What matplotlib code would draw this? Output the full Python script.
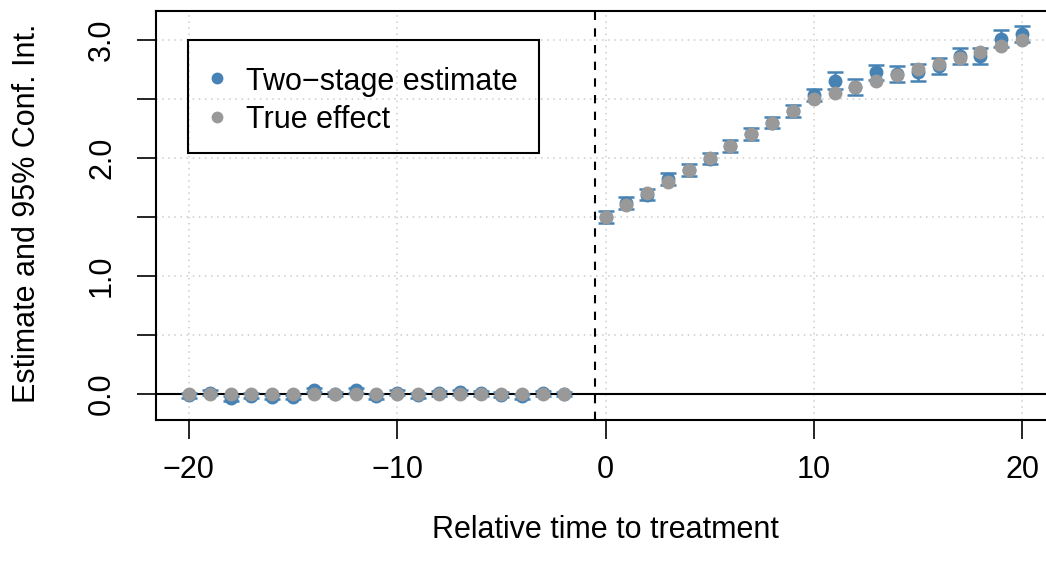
import matplotlib
matplotlib.use("Agg")
import matplotlib.pyplot as plt
from matplotlib.patches import Rectangle
from matplotlib.lines import Line2D

plt.rcParams['font.family'] = ['Liberation Sans', 'DejaVu Sans']

# ---- data ----
rel_time = [-20, -19, -18, -17, -16, -15, -14, -13, -12, -11, -10, -9, -8, -7, -6, -5, -4, -3, -2,
            0, 1, 2, 3, 4, 5, 6, 7, 8, 9, 10, 11, 12, 13, 14, 15, 16, 17, 18, 19, 20]
estimate = [-0.01, 0.01, -0.035, -0.015, -0.025, -0.025, 0.035, 0.0, 0.03, -0.02,
            0.01, -0.01, 0.005, 0.015, 0.005, -0.005, -0.02, 0.005, 0.0,
            1.50, 1.62, 1.69, 1.82, 1.90, 1.995, 2.10, 2.20, 2.30, 2.40, 2.53,
            2.655, 2.60, 2.725, 2.71, 2.725, 2.78, 2.865, 2.865, 3.01, 3.05]
ci_half = [0.02] * 19 + [0.05, 0.05, 0.05, 0.05, 0.05, 0.05, 0.05, 0.05, 0.05, 0.05, 0.05,
                         0.07, 0.07, 0.065, 0.07, 0.07, 0.07, 0.07, 0.07, 0.07, 0.07]
true_effect = [0.0] * 19 + [1.5, 1.6, 1.7, 1.8, 1.9, 2.0, 2.1, 2.2, 2.3, 2.4, 2.5,
                            2.55, 2.6, 2.65, 2.7, 2.75, 2.8, 2.85, 2.9, 2.95, 3.0]
series_names = ["Two\u2212stage estimate", "True effect"]
x_ticks = [-20, -10, 0, 10, 20]
x_ticklabels = ["\u221220", "\u221210", "0", "10", "20"]
y_ticks = [0.0, 0.5, 1.0, 1.5, 2.0, 2.5, 3.0]
y_ticklabels = ["0.0", "", "1.0", "", "2.0", "", "3.0"]

BLUE = "#4682B4"
GREY = "#999999"
FS = 22

W, H = 1046, 565
fig = plt.figure(figsize=(W / 100, H / 100), dpi=100)
left, right, top, bottom = 156, 1055, 11, 420
ax = fig.add_axes([left / W, 1 - bottom / H, (right - left) / W, (bottom - top) / H])
ax.set_xlim(-21.58, 21.58)
ax.set_ylim(-0.22, 3.245)

# grid
for xv in x_ticks:
    ax.axvline(xv, color="#cccccc", lw=1.1, ls=(0, (1, 3)), zorder=0)
for yv in y_ticks:
    ax.axhline(yv, color="#cccccc", lw=1.1, ls=(0, (1, 3)), zorder=0)

ax.axhline(0, color="black", lw=1.5, zorder=1)
ax.axvline(-0.5, color="black", lw=1.5, ls=(0, (4, 4)), zorder=1)

ax.errorbar(rel_time, estimate, yerr=ci_half, fmt="o", color=BLUE, ms=9,
            elinewidth=1.8, capsize=5.5, capthick=1.8, zorder=3)
ax.plot(rel_time, true_effect, "o", color=GREY, ms=9, zorder=4)

ax.set_xticks(x_ticks)
ax.set_xticklabels(x_ticklabels)
ax.set_yticks(y_ticks)
ax.set_yticklabels(y_ticklabels)
ax.tick_params(axis="both", direction="out", length=13.5, width=1.2, labelsize=FS)
ax.tick_params(axis="x", pad=12)
ax.tick_params(axis="y", pad=14.5)
for lab in ax.get_yticklabels():
    lab.set_rotation(90)
    lab.set_va("center")
for sp in ax.spines.values():
    sp.set_linewidth(1.5)

# legend (transparent box, drawn in figure pixel positions)
def fx(px):
    return px / W

def fy(py):
    return 1 - py / H

fig.add_artist(Rectangle((fx(188), fy(153)), fx(539) - fx(188), fy(40) - fy(153),
                         transform=fig.transFigure, fill=False, edgecolor="black", lw=1.5))
for name, col, ydot, ybase in [(series_names[0], BLUE, 78, 90), (series_names[1], GREY, 117, 128)]:
    fig.add_artist(Line2D([fx(217)], [fy(ydot)], marker="o", ls="", color=col, ms=7.5,
                          transform=fig.transFigure))
    fig.text(fx(246), fy(ybase), name, ha="left", va="baseline", fontsize=FS)

fig.text(605 / W, 1 - 530 / H, "Relative time to treatment", ha="center", va="center", fontsize=FS)
fig.text(27 / W, 1 - 213 / H, "Estimate and 95% Conf. Int.", ha="center", va="center",
         rotation=90, fontsize=FS)

fig.savefig("out.png", dpi=100)
